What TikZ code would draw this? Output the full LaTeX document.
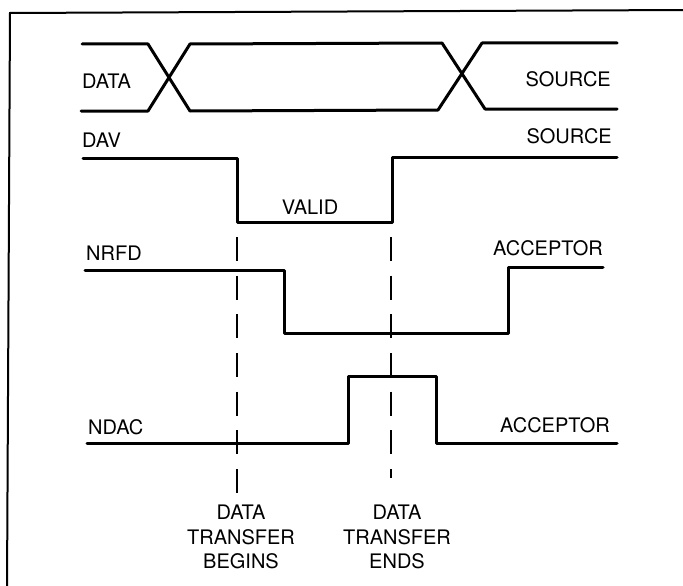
\documentclass[tikz,border=0pt]{standalone}
\usepackage{fontspec}
\setmainfont{TeX Gyre Heros}
\begin{document}
\begin{tikzpicture}[x=1pt,y=-1pt,
  sig/.style={line width=3pt,line join=round,line cap=round},
  frame/.style={line width=2pt},
  marker/.style={line width=2.6pt,dash pattern=on 24pt off 14.67pt},
  lbl/.style={font=\fontsize{20}{24.5}\selectfont,inner sep=0pt,align=center}]
\useasboundingbox (0,0) rectangle (683,586);
% frame (partly cut off)
\draw[frame] (7,588) -- (10,13) -- (685,10);
% DATA bus
\draw[sig] (82,44) -- (148,44) -- (190,111) -- (438,110) -- (482,43) -- (617,43);
\draw[sig] (81,111) -- (148,111) -- (190,44) -- (442,43) -- (485,109) -- (617,109);
% DAV
\draw[sig] (83,158) -- (237,158) -- (237,222) -- (392,222) -- (392,157) -- (617,157);
% NRFD
\draw[sig] (85,270) -- (284,270) -- (284,333) -- (508,333) -- (508,267) -- (603,267);
% NDAC
\draw[sig] (87,443) -- (348,443) -- (348,376) -- (436,376) -- (436,443) -- (617,443);
% markers
\coordinate (b1) at (237,237); \coordinate (b2) at (237,493);
\coordinate (e1) at (391,237); \coordinate (e2) at (391,478);
\draw[marker] (b1) -- (b2);
\draw[marker] (e1) -- (e2);
% labels
\node[lbl,anchor=west] (ldata) at (82,81) {DATA};
\node[lbl,anchor=east] (lsrc1) at (611,79) {SOURCE};
\node[lbl,anchor=west] (ldav) at (82,140) {DAV};
\node[lbl,anchor=east] (lsrc2) at (612,136) {SOURCE};
\node[lbl] (lvalid) at (310,207) {VALID};
\node[lbl,anchor=west] (lnrfd) at (86,253) {NRFD};
\node[lbl,anchor=east] (lacc1) at (603,248) {ACCEPTOR};
\node[lbl,anchor=west] (lndac) at (88,427) {NDAC};
\node[lbl,anchor=east] (lacc2) at (610,425) {ACCEPTOR};
\node[lbl] (lbeg) at (241,537) {DATA\\TRANSFER\\BEGINS};
\node[lbl] (lend) at (397,537) {DATA\\TRANSFER\\ENDS};
\end{tikzpicture}
\end{document}
